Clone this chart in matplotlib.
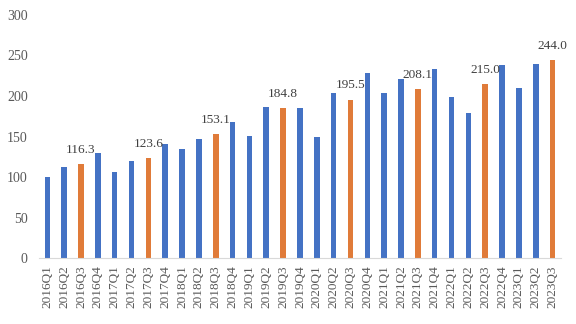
import matplotlib
matplotlib.use("Agg")
import matplotlib.pyplot as plt
import numpy as np

quarters = ["2016Q1","2016Q2","2016Q3","2016Q4",
            "2017Q1","2017Q2","2017Q3","2017Q4",
            "2018Q1","2018Q2","2018Q3","2018Q4",
            "2019Q1","2019Q2","2019Q3","2019Q4",
            "2020Q1","2020Q2","2020Q3","2020Q4",
            "2021Q1","2021Q2","2021Q3","2021Q4",
            "2022Q1","2022Q2","2022Q3","2022Q4",
            "2023Q1","2023Q2","2023Q3"]
values = [100.0, 113.0, 116.3, 130.0,
          106.4, 120.3, 123.6, 141.0,
          134.8, 147.0, 153.1, 168.0,
          150.8, 186.6, 184.8, 185.3,
          149.6, 203.8, 195.5, 228.5,
          204.0, 221.0, 208.1, 233.0,
          199.0, 179.6, 215.0, 238.4,
          210.0, 239.6, 244.0]
yticks = [0, 50, 100, 150, 200, 250, 300]

blue = "#4472C4"
orange = "#E07B39"

plt.rcParams['font.family'] = ['Liberation Serif', 'DejaVu Serif']

fig = plt.figure(figsize=(5.76, 3.24), dpi=100)
ax = fig.add_axes([0.0675, 0.203, 0.9065, 0.751])

x = np.arange(len(quarters))
colors = [orange if q.endswith("Q3") else blue for q in quarters]
ax.bar(x, values, width=0.33, color=colors, zorder=2)

for xi, q, v in zip(x, quarters, values):
    if q.endswith("Q3"):
        ax.annotate(f"{v:.1f}", (xi, v), xytext=(0, 6), textcoords="offset points",
                    ha="center", va="bottom", fontsize=9.5, color="#404040")

ax.set_xlim(-0.5, len(quarters) - 0.5)
ax.set_ylim(0, 300)
ax.set_yticks(yticks)
ax.set_yticklabels([str(t) for t in yticks], fontsize=10, color="#595959")
ax.set_xticks(x)
ax.set_xticklabels(quarters, rotation=90, fontsize=9.5, color="#595959")
ax.tick_params(axis="both", length=0)
ax.tick_params(axis="x", pad=5)
ax.tick_params(axis="y", pad=8)

for s in ["top", "right", "left"]:
    ax.spines[s].set_visible(False)
ax.spines["bottom"].set_color("#D9D9D9")
ax.spines["bottom"].set_linewidth(0.8)

fig.savefig("out.png", dpi=100)
